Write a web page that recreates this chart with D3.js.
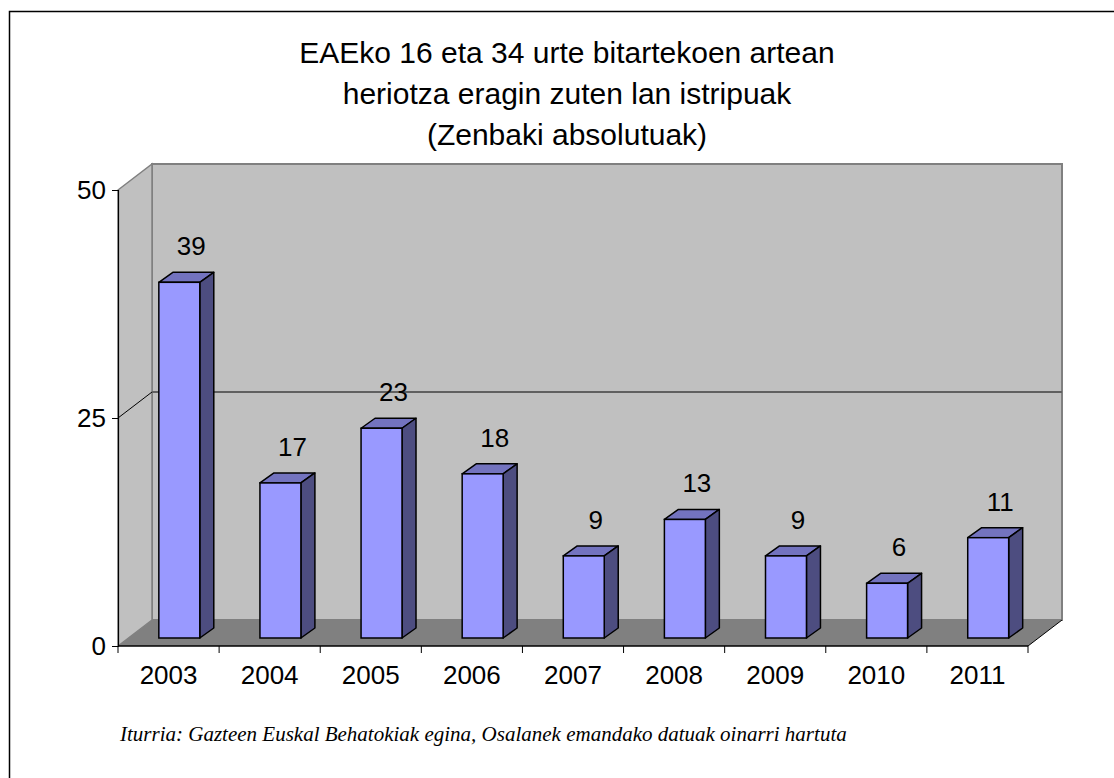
<!DOCTYPE html>
<html>
<head>
<meta charset="utf-8">
<script src="https://cdn.jsdelivr.net/npm/d3@7"></script>
<style>
  body { margin: 0; background: #fff; }
  #chart-area { width: 1114px; height: 778px; }
</style>
</head>
<body>
<div id="chart-area"></div>
<script>
// data
var years = ["2003", "2004", "2005", "2006", "2007", "2008", "2009", "2010", "2011"];
var deaths = [39, 17, 23, 18, 9, 13, 9, 6, 11];
var yTicks = [0, 25, 50];
var titleLines = ["EAEko 16 eta 34 urte bitartekoen artean", "heriotza eragin zuten lan istripuak", "(Zenbaki absolutuak)"];
var sourceNote = "Iturria: Gazteen Euskal Behatokiak egina, Osalanek emandako datuak oinarri hartuta";

function init() {
    var svgWidth = 1114, svgHeight = 778;
    var sans = "Arial, 'Liberation Sans', sans-serif";

    var svg = d3.select("#chart-area")
        .append("svg")
        .attr("width", svgWidth)
        .attr("height", svgHeight);

    // outer frame (only top/left edges show)
    svg.append("rect")
        .attr("x", 9.5).attr("y", 11.5)
        .attr("width", 1200).attr("height", 900)
        .attr("fill", "none")
        .attr("stroke", "black")
        .attr("stroke-width", 1.5);

    // front plane scales
    var x = d3.scaleBand().domain(years).range([118, 1028]).paddingInner(0).paddingOuter(0);
    var y = d3.scaleLinear().domain([0, 50]).range([646, 190]);

    // depth offsets
    var dDx = 34, dDy = -26;      // wall depth
    var bDx = 10, bDy = -8;       // bar position in depth
    var tDx = 14, tDy = -10;      // bar own depth

    var x0 = x.range()[0], x1 = x.range()[1];
    var yTop = y(50), yBot = y(0);

    // back wall
    svg.append("rect")
        .attr("x", x0 + dDx).attr("y", yTop + dDy)
        .attr("width", x1 - x0).attr("height", yBot - yTop)
        .attr("fill", "#c0c0c0")
        .attr("stroke", "#808080")
        .attr("stroke-width", 2);

    // side wall
    svg.append("path")
        .attr("d", "M" + x0 + "," + yTop + "L" + (x0 + dDx) + "," + (yTop + dDy) +
            "L" + (x0 + dDx) + "," + (yBot + dDy) + "L" + x0 + "," + yBot + "Z")
        .attr("fill", "#c0c0c0")
        .attr("stroke", "#808080")
        .attr("stroke-width", 1.5);

    // floor
    svg.append("path")
        .attr("d", "M" + x0 + "," + yBot + "L" + x1 + "," + yBot +
            "L" + (x1 + dDx) + "," + (yBot + dDy) + "L" + (x0 + dDx) + "," + (yBot + dDy) + "Z")
        .attr("fill", "#808080");
    svg.append("line")
        .attr("x1", x1).attr("y1", yBot)
        .attr("x2", x1 + dDx).attr("y2", yBot + dDy)
        .attr("stroke", "black").attr("stroke-width", 1);

    // gridlines (middle ticks)
    yTicks.filter(t => t > 0 && t < 50).forEach(t => {
        svg.append("line")
            .attr("x1", x0 + dDx).attr("y1", y(t) + dDy)
            .attr("x2", x1 + dDx).attr("y2", y(t) + dDy)
            .attr("stroke", "#606060").attr("stroke-width", 2);
        svg.append("line")
            .attr("x1", x0).attr("y1", y(t))
            .attr("x2", x0 + dDx).attr("y2", y(t) + dDy)
            .attr("stroke", "black").attr("stroke-width", 1);
    });

    // y axis
    var leftAxis = d3.axisLeft(y).tickValues(yTicks).tickSize(6).tickPadding(6);
    var yAxisG = svg.append("g")
        .attr("transform", "translate(" + x0 + ",0)")
        .call(leftAxis);
    yAxisG.select(".domain").attr("stroke", "black").attr("stroke-width", 1.2);
    yAxisG.selectAll("text")
        .attr("font-family", sans)
        .attr("font-size", "26px")
        .attr("fill", "black");

    // x axis with ticks at band boundaries
    var xAxisG = svg.append("g").attr("transform", "translate(0," + yBot + ")");
    xAxisG.append("line")
        .attr("x1", x0).attr("x2", x1)
        .attr("stroke", "black").attr("stroke-width", 1.5);
    var bounds = years.map(d => x(d)).concat([x1]);
    xAxisG.selectAll(".xtick")
        .data(bounds)
        .enter().append("line")
        .attr("class", "xtick")
        .attr("x1", d => d).attr("x2", d => d)
        .attr("y1", 0).attr("y2", 7)
        .attr("stroke", "black");
    xAxisG.selectAll(".xlabel")
        .data(years)
        .enter().append("text")
        .attr("class", "xlabel")
        .attr("x", d => x(d) + x.bandwidth() / 2)
        .attr("y", 38)
        .attr("text-anchor", "middle")
        .attr("font-family", sans)
        .attr("font-size", "26px")
        .text(d => d);

    // bars
    var bw = x.bandwidth();
    var barW = bw * 0.405;
    var bars = years.map((yr, i) => ({ year: yr, value: deaths[i] }));
    var barG = svg.append("g");
    bars.forEach(d => {
        var left = x(d.year) + bw * 0.305 + bDx;
        var right = left + barW;
        var top = y(d.value) + bDy;
        var bot = y(0) + bDy;
        var g = barG.append("g");
        // top face
        g.append("path")
            .attr("d", "M" + left + "," + top + "L" + (left + tDx) + "," + (top + tDy) +
                "L" + (right + tDx) + "," + (top + tDy) + "L" + right + "," + top + "Z")
            .attr("fill", "#7373bf").attr("stroke", "black").attr("stroke-width", 1.5)
            .attr("stroke-linejoin", "round");
        // side face
        g.append("path")
            .attr("d", "M" + right + "," + top + "L" + (right + tDx) + "," + (top + tDy) +
                "L" + (right + tDx) + "," + (bot + tDy) + "L" + right + "," + bot + "Z")
            .attr("fill", "#4d4d80").attr("stroke", "black").attr("stroke-width", 1.5)
            .attr("stroke-linejoin", "round");
        // front face
        g.append("rect")
            .attr("x", left).attr("y", top)
            .attr("width", barW).attr("height", bot - top)
            .attr("fill", "#9999ff").attr("stroke", "black").attr("stroke-width", 1.5);
        // value label
        g.append("text")
            .attr("x", left + barW / 2 + 12)
            .attr("y", top - 27)
            .attr("text-anchor", "middle")
            .attr("font-family", sans)
            .attr("font-size", "26px")
            .text(d.value);
    });

    // title
    svg.append("g").selectAll("text")
        .data(titleLines)
        .enter().append("text")
        .attr("x", 567)
        .attr("y", (d, i) => 63 + i * 41)
        .attr("text-anchor", "middle")
        .attr("font-family", sans)
        .attr("font-size", "30px")
        .text(d => d);

    // source note
    svg.append("text")
        .attr("x", 120)
        .attr("y", 741)
        .attr("font-family", "'Times New Roman', 'Liberation Serif', serif")
        .attr("font-style", "italic")
        .attr("font-size", "21px")
        .text(sourceNote);
}

window.addEventListener('load', init, false)
</script>
</body>
</html>
